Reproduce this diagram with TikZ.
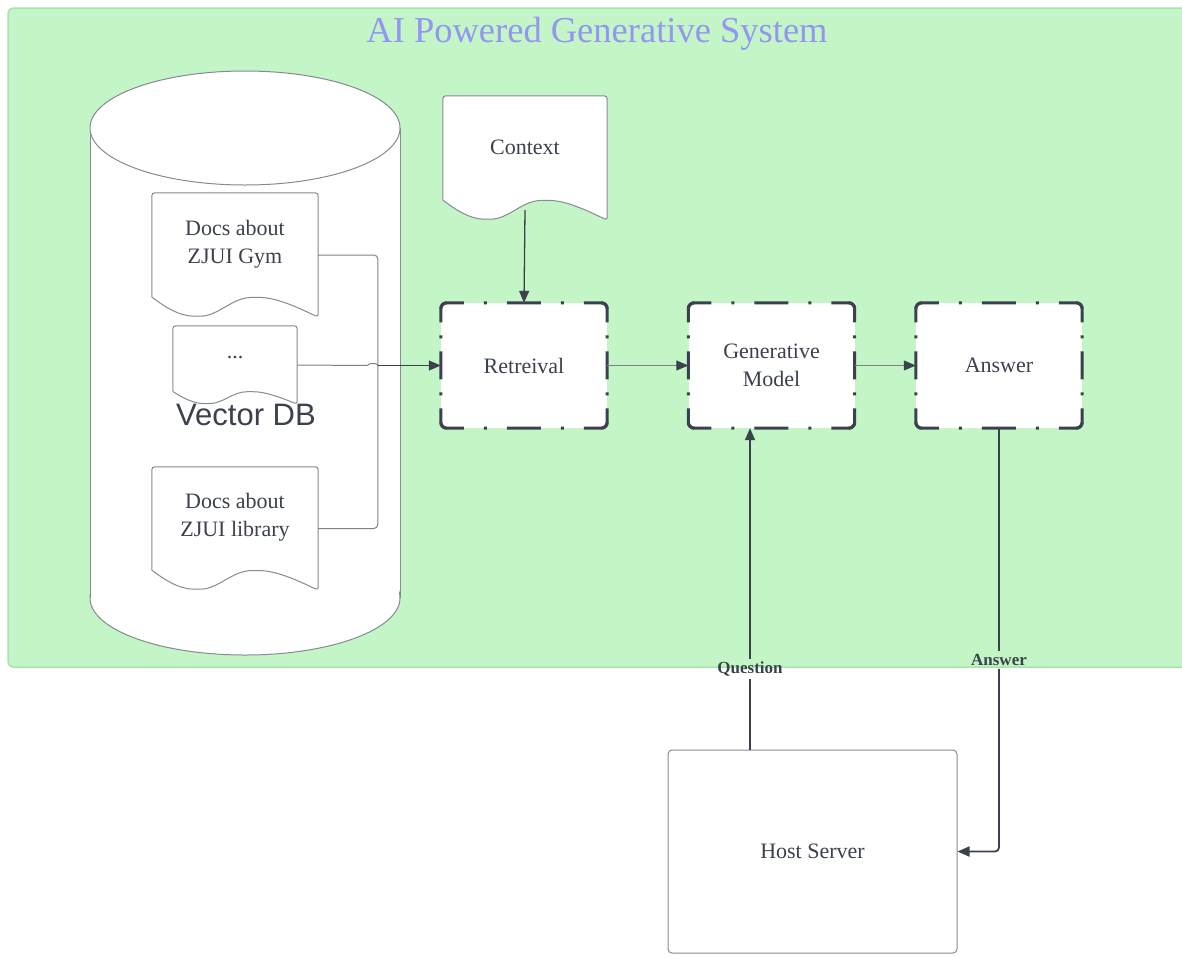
\documentclass[tikz,border=0pt]{standalone}
\usepackage{fontspec}
\setmainfont{Liberation Serif}
\setsansfont{Liberation Sans}
\usetikzlibrary{arrows.meta,calc}

\definecolor{panelfill}{HTML}{C3F5C7}
\definecolor{paneledge}{HTML}{A6E6AD}
\definecolor{titleblue}{HTML}{9595F2}
\definecolor{ink}{HTML}{3B414D}
\definecolor{outline}{HTML}{868A91}
\definecolor{thinline}{HTML}{7D8189}

\tikzset{
  tip/.style={-{Triangle[length=12pt,width=10pt,color=ink]}},
  docframe/.style={rectangle, inner sep=0pt},
  docline/.style={fill=white, draw=outline, line width=1pt, rounded corners=3pt},
  doctext/.style={font=\fontsize{22}{28}\selectfont, align=center, text=ink, inner sep=1pt},
  stepbox/.style={rectangle, fill=white, minimum width=166pt, minimum height=125pt,
    inner sep=0pt, align=center, text=ink, font=\fontsize{22}{28}\selectfont},
  dashedge/.style={draw=ink, line width=3pt, rounded corners=6pt},
  hostbox/.style={rectangle, fill=white, draw=outline, line width=1pt, rounded corners=4pt,
    minimum width=289pt, minimum height=203pt, text=ink, font=\fontsize{22}{28}\selectfont},
  feed/.style={draw=thinline, line width=1pt, rounded corners=4pt},
  thinconn/.style={draw=thinline, line width=1pt, tip},
  conn/.style={draw=ink, line width=1.8pt, tip},
  connplain/.style={draw=ink, line width=1.8pt},
  flowlabel/.style={font=\fontsize{17}{20}\selectfont\bfseries, text=ink, inner sep=3pt},
}

% document sheet with a wavy lower edge: name, centre x, centre y, width, height, text
\newcommand\docpaper[6]{%
  \node[docframe, minimum width=#4pt, minimum height=#5pt] (#1) at (#2,#3) {};
  \filldraw[docline]
    ($(#1.south west)+(0,-0.16*#5)$) -- (#1.north west) -- (#1.north east) -- (#1.south east)
    .. controls +(-0.17*#4,-0.11*#5) and ($(#1.south east)+(-0.27*#4,-0.16*#5)$)
    .. ($(#1.south east)+(-0.38*#4,-0.16*#5)$)
    .. controls ($(#1.south east)+(-0.52*#4,-0.16*#5)$) and ($(#1.south east)+(-0.60*#4,-0.008*#5)$)
    .. ($(#1.south east)+(-0.73*#4,-0.008*#5)$)
    .. controls ($(#1.south east)+(-0.84*#4,-0.008*#5)$) and ($(#1.south east)+(-0.93*#4,-0.09*#5)$)
    .. ($(#1.south east)+(-#4,-0.16*#5)$);
  \node[doctext] (#1-text) at ($(#1.center)+(0,-0.09*#5)$) {#6};
}

% dash-dot outline of a process box, each side centred on a long dash
\newcommand\stepframe[1]{%
  \draw[dashedge, dash pattern=on 34pt off 20pt on 3pt off 20pt, dash phase=7.6pt]
    ([yshift=-6pt]#1.north west) -- (#1.north west) -- (#1.north east) -- ([yshift=-6pt]#1.north east);
  \draw[dashedge, dash pattern=on 34pt off 20pt on 3pt off 20pt, dash phase=7.6pt]
    ([yshift=6pt]#1.south west) -- (#1.south west) -- (#1.south east) -- ([yshift=6pt]#1.south east);
  \draw[dashedge, dash pattern=on 28pt off 13pt on 3pt off 13pt, dash phase=5.1pt]
    ([xshift=6pt]#1.north west) -- (#1.north west) -- (#1.south west) -- ([xshift=6pt]#1.south west);
  \draw[dashedge, dash pattern=on 28pt off 13pt on 3pt off 13pt, dash phase=5.1pt]
    ([xshift=-6pt]#1.north east) -- (#1.north east) -- (#1.south east) -- ([xshift=-6pt]#1.south east);
}

\begin{document}
\begin{tikzpicture}[x=1pt,y=-1pt]
\useasboundingbox (0,0) rectangle (1182,956);

% system panel
\draw[fill=panelfill, draw=paneledge, line width=1.5pt, rounded corners=5pt] (8,8) rectangle (1195,667);
\node[font=\fontsize{36.5}{40}\selectfont, text=titleblue] (title) at (597,34) {AI Powered Generative System};

% vector database cylinder
\fill[white] (90,128) rectangle (400,598);
\filldraw[fill=white, draw=outline, line width=1pt] (245,598) ellipse [x radius=155, y radius=57];
\fill[white] (91,128) rectangle (399,598);
\draw[outline, line width=1pt] (90,128) -- (90,598) (400,128) -- (400,598);
\filldraw[fill=white, draw=outline, line width=1pt] (245,128) ellipse [x radius=155, y radius=57];

\docpaper{gym}{235}{255}{166}{124}{Docs about\\ZJUI Gym}
\docpaper{dots}{235}{365}{124}{78}{...}
\docpaper{lib}{235}{528.5}{166}{123}{Docs about\\ZJUI library}
\node[font=\sffamily\fontsize{31}{36}\selectfont, text=ink] (vdb) at (246,415) {Vector DB};

\docpaper{context}{525}{158}{164}{124}{Context}

% pipeline
\node[stepbox] (retr) at (524,365.5) {Retreival};
\node[stepbox] (gen) at (771.5,365.5) {Generative\\Model};
\node[stepbox] (ans) at (999,365.5) {Answer};
\stepframe{retr}
\stepframe{gen}
\stepframe{ans}

\node[hostbox] (host) at (812.5,851.5) {Host Server};

% connectors
\coordinate (merge) at ($(retr.west)+(-63,0)$);
\draw[feed] (gym.east) -| (merge);
\draw[feed] (lib.east) -| (merge);
\draw[feed, rounded corners=1pt] (dots.east) -- ([xshift=-10pt]merge) -- ([xshift=-8pt,yshift=2pt]merge)
  -- ([xshift=-2pt,yshift=2pt]merge) -- (merge);
\draw[conn, line width=1.2pt] (merge) -- (retr.west);

\draw[conn, line width=1.3pt] ([yshift=10pt]context.south) -- (retr.north);
\draw[thinconn] (retr.east) -- (gen.west);
\draw[thinconn] (gen.east) -- (ans.west);

\node[flowlabel] (qlab) at (750,669) {Question};
\draw[conn] (qlab.north) -- (qlab.north |- gen.south);
\draw[connplain] (qlab.south |- host.north) -- (qlab.south);

\node[flowlabel] (alab) at (999,660) {Answer};
\draw[connplain] (ans.south) -- (alab.north);
\draw[conn, rounded corners=4pt] (alab.south) |- (host.east);
\end{tikzpicture}
\end{document}
